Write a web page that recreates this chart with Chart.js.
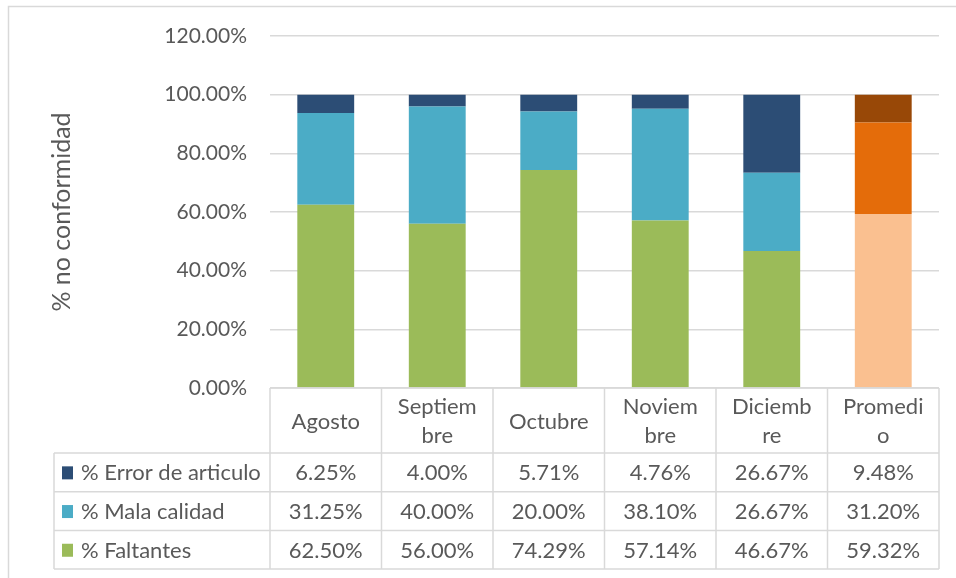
<!DOCTYPE html>
<html>
<head>
<meta charset="utf-8">
<script src="https://cdn.jsdelivr.net/npm/chart.js@4/dist/chart.umd.min.js"></script>
<style>
  html, body { margin: 0; padding: 0; background: #fff; }
  #wrap { position: relative; width: 956px; height: 578px; }
</style>
</head>
<body>
<div id="wrap"><canvas id="myChart" width="956" height="578"></canvas></div>
<script>
// Monthly non-conformity shares
var categories = ['Agosto', 'Septiembre', 'Octubre', 'Noviembre', 'Diciembre', 'Promedio'];
// header text as it wraps inside the table cells
var headerLines = [['Agosto'], ['Septiem', 'bre'], ['Octubre'], ['Noviem', 'bre'], ['Diciemb', 're'], ['Promedi', 'o']];
var errorArticulo = [6.25, 4.00, 5.71, 4.76, 26.67, 9.48];
var malaCalidad = [31.25, 40.00, 20.00, 38.10, 26.67, 31.20];
var faltantes = [62.50, 56.00, 74.29, 57.14, 46.67, 59.32];
var yTicks = [0, 20, 40, 60, 80, 100, 120];

var FONT = '22px Lato';
var TEXT = '#595959';
var LINE = '#d9d9d9';

// the "Promedio" column gets its own orange palette
function colors(normal, average) {
    return categories.map((c, i) => i === categories.length - 1 ? average : normal);
}

var series = [
    { label: '% Error de articulo', data: errorArticulo, color: '#2c4d75', avg: '#984807' },
    { label: '% Mala calidad', data: malaCalidad, color: '#4bacc6', avg: '#e46c0a' },
    { label: '% Faltantes', data: faltantes, color: '#9bbb59', avg: '#fac090' }
];

// data table under the plot, aligned with the category columns
var dataTable = {
    id: 'dataTable',
    afterDraw(chart) {
        var ctx = chart.ctx;
        var area = chart.chartArea;
        var xs = chart.scales.x;
        var n = categories.length;
        var colW = (area.right - area.left) / n;
        var top = area.bottom;
        var headerH = 65;
        var rowH = 38.7;
        var legendLeft = 54;
        var bottom = top + headerH + rowH * series.length;

        ctx.save();
        // outer chart border
        ctx.strokeStyle = LINE;
        ctx.lineWidth = 1.5;
        ctx.strokeRect(8.5, 6.5, 1000, 1000);

        // grid of the table
        ctx.beginPath();
        ctx.moveTo(area.left, top);
        ctx.lineTo(area.right, top);
        for (var r = 0; r <= series.length; r++) {
            var y = top + headerH + r * rowH;
            ctx.moveTo(legendLeft, y);
            ctx.lineTo(area.right, y);
        }
        for (var c = 0; c <= n; c++) {
            var x = area.left + c * colW;
            ctx.moveTo(x, top);
            ctx.lineTo(x, bottom);
        }
        ctx.moveTo(legendLeft, top + headerH);
        ctx.lineTo(legendLeft, bottom);
        ctx.stroke();

        ctx.font = FONT;
        ctx.fillStyle = TEXT;
        ctx.textAlign = 'center';
        ctx.textBaseline = 'middle';

        // category headers
        headerLines.forEach((lines, i) => {
            var cx = xs.getPixelForValue(i);
            var mid = top + headerH / 2 + 1;
            var step = 29.5;
            lines.forEach((t, k) => {
                ctx.fillText(t, cx, mid + (k - (lines.length - 1) / 2) * step);
            });
        });

        // value rows with legend keys
        series.forEach((s, r) => {
            var cy = top + headerH + r * rowH + rowH / 2 + 1;
            ctx.fillStyle = s.color;
            ctx.fillRect(62, cy - 7, 11, 13);
            ctx.fillStyle = TEXT;
            ctx.textAlign = 'left';
            ctx.fillText(s.label, 81, cy);
            ctx.textAlign = 'center';
            s.data.forEach((v, i) => {
                ctx.fillText(v.toFixed(2) + '%', xs.getPixelForValue(i), cy);
            });
        });
        ctx.restore();
    }
};

var ctx = document.getElementById('myChart').getContext('2d');

var myChart = new Chart(ctx, {
    type: 'bar',
    data: {
        labels: categories,
        // stacked bottom-up: faltantes, mala calidad, error
        datasets: series.slice().reverse().map(s => ({
            label: s.label,
            data: s.data,
            backgroundColor: colors(s.color, s.avg),
            borderWidth: 0,
            categoryPercentage: 1,
            barPercentage: 0.51
        }))
    },
    options: {
        responsive: false,
        animation: false,
        layout: { padding: { left: 0, right: 17, top: 36, bottom: 190 } },
        plugins: {
            legend: { display: false },
            tooltip: { enabled: false }
        },
        scales: {
            x: { stacked: true, display: false },
            y: {
                stacked: true,
                min: 0,
                max: 120,
                afterBuildTicks: axis => { axis.ticks = yTicks.map(v => ({ value: v })); },
                afterFit: axis => { axis.width = 270; },
                border: { display: false },
                grid: { color: LINE, lineWidth: 1.5, drawTicks: false },
                ticks: {
                    padding: 23,
                    color: TEXT,
                    font: { family: 'Lato', size: 21 },
                    callback: v => v.toFixed(2) + '%'
                },
                title: {
                    display: true,
                    text: '% no conformidad',
                    color: TEXT,
                    font: { family: 'Lato', size: 25 },
                    padding: { top: 47, bottom: 0 }
                }
            }
        }
    },
    plugins: [dataTable]
});
</script>
</body>
</html>
